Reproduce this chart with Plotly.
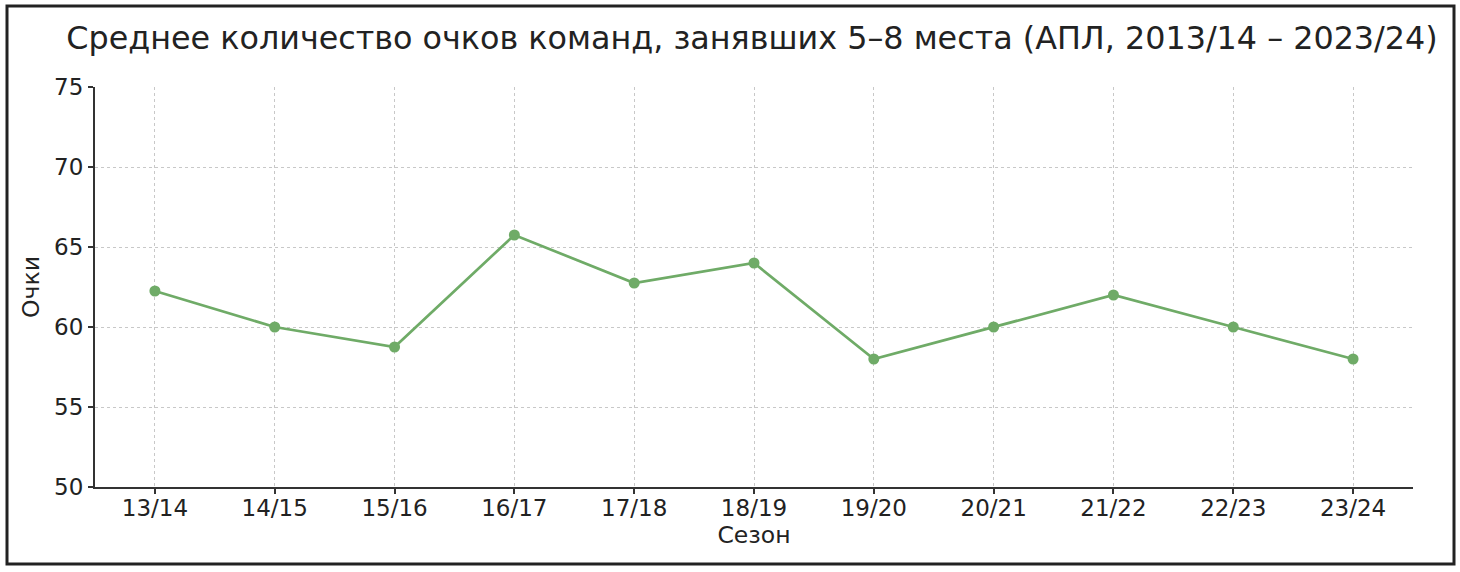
import plotly.graph_objects as go

seasons = ["13/14", "14/15", "15/16", "16/17", "17/18", "18/19", "19/20", "20/21", "21/22", "22/23", "23/24"]
points = [62.25, 60.0, 58.75, 65.75, 62.75, 64.0, 58.0, 60.0, 62.0, 60.0, 58.0]
y_ticks = [50, 55, 60, 65, 70, 75]

W, H = 1460, 572
ML, MR, MT, MB = 95, 47, 87, 85
pw, ph = W - ML - MR, H - MT - MB

def px_x(p):
    return (p - ML) / pw

def px_y(p):
    return (H - MB - p) / ph

font = "DejaVu Sans, Verdana, sans-serif"
fig = go.Figure()
fig.add_trace(go.Scatter(
    x=list(range(len(seasons))), y=points, mode="lines+markers",
    line=dict(color="#6fab67", width=2.7),
    marker=dict(color="#6fab67", size=11),
    showlegend=False,
))

fig.update_layout(
    width=W, height=H,
    margin=dict(l=ML, r=MR, t=MT, b=MB),
    paper_bgcolor="white", plot_bgcolor="white",
    font=dict(family=font, color="#222", size=23),
    title=dict(text="Среднее количество очков команд, занявших 5–8 места (АПЛ, 2013/14 – 2023/24)",
               x=px_x(752), xref="paper", xanchor="center",
               y=1 - 38 / H, yanchor="middle",
               font=dict(size=31.8, color="#222", family=font)),
    xaxis=dict(
        range=[-0.5, 10.5], tickmode="array",
        tickvals=list(range(len(seasons))), ticktext=seasons,
        showline=True, linecolor="#333", linewidth=2, mirror=False,
        ticks="outside", ticklen=5, tickcolor="#333", tickwidth=1.5,
        ticklabelstandoff=-6,
        showgrid=True, gridcolor="#c8c8c8", griddash="3px,3px", gridwidth=1.2,
        zeroline=False,
        title=dict(text="Сезон", standoff=6, font=dict(size=23.5)),
    ),
    yaxis=dict(
        range=[50, 75], tickmode="array", tickvals=y_ticks,
        showline=True, linecolor="#333", linewidth=2, mirror=False,
        ticks="outside", ticklen=5, tickcolor="#333", tickwidth=1.5,
        showgrid=True, gridcolor="#c8c8c8", griddash="3px,3px", gridwidth=1.2,
        zeroline=False,
        title=dict(text="Очки", standoff=8, font=dict(size=23.5)),
    ),
    shapes=[dict(type="rect", xref="paper", yref="paper",
                 x0=px_x(7), x1=px_x(1454), y0=px_y(564), y1=px_y(6),
                 line=dict(color="#222", width=3), layer="above")],
)

fig.write_html("out.html", config={"displayModeBar": False},
               post_script="document.body.style.margin='0';document.body.style.padding='0';")
